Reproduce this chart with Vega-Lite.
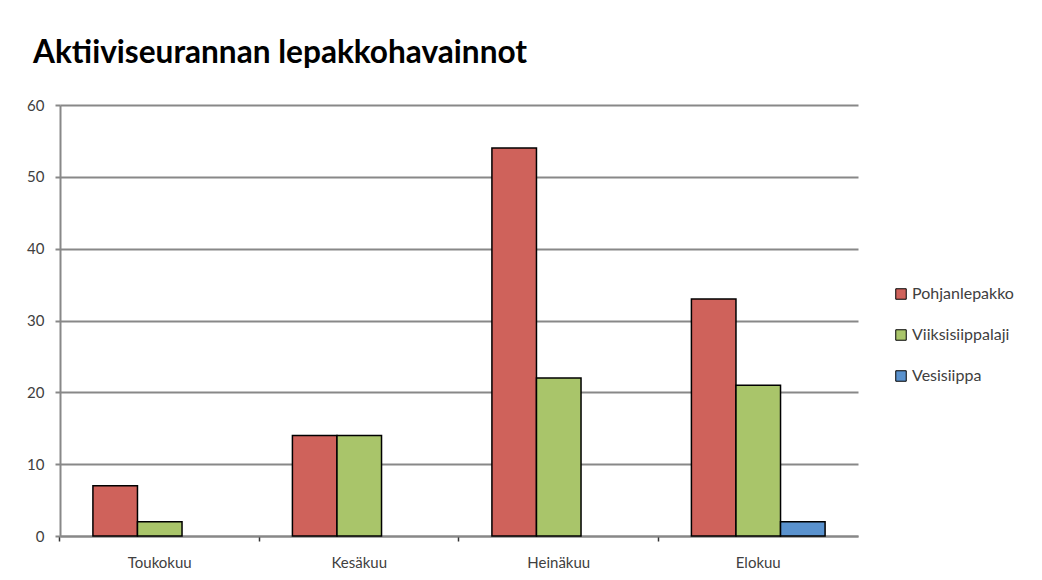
{
  "$schema": "https://vega.github.io/schema/vega-lite/v6.json",
  "autosize": "none",
  "width": 798,
  "height": 431,
  "padding": {"left": 60, "top": 105, "right": 184, "bottom": 44},
  "background": "white",
  "title": {
    "text": "Aktiiviseurannan lepakkohavainnot",
    "anchor": "start",
    "frame": "group",
    "dx": -27,
    "offset": 28,
    "font": "Lato",
    "fontSize": 31.6,
    "fontWeight": "bold",
    "color": "#000000"
  },
  "data": {
    "values": [
      {"kuukausi": "Toukokuu", "laji": "Pohjanlepakko", "havainnot": 7},
      {"kuukausi": "Toukokuu", "laji": "Viiksisiippalaji", "havainnot": 2},
      {"kuukausi": "Toukokuu", "laji": "Vesisiippa", "havainnot": 0},
      {"kuukausi": "Kesäkuu", "laji": "Pohjanlepakko", "havainnot": 14},
      {"kuukausi": "Kesäkuu", "laji": "Viiksisiippalaji", "havainnot": 14},
      {"kuukausi": "Kesäkuu", "laji": "Vesisiippa", "havainnot": 0},
      {"kuukausi": "Heinäkuu", "laji": "Pohjanlepakko", "havainnot": 54},
      {"kuukausi": "Heinäkuu", "laji": "Viiksisiippalaji", "havainnot": 22},
      {"kuukausi": "Heinäkuu", "laji": "Vesisiippa", "havainnot": 0},
      {"kuukausi": "Elokuu", "laji": "Pohjanlepakko", "havainnot": 33},
      {"kuukausi": "Elokuu", "laji": "Viiksisiippalaji", "havainnot": 21},
      {"kuukausi": "Elokuu", "laji": "Vesisiippa", "havainnot": 2}
    ]
  },
  "transform": [{"filter": "datum.havainnot > 0"}],
  "mark": {"type": "bar", "stroke": "#000000", "strokeWidth": 1.5},
  "encoding": {
    "x": {
      "field": "kuukausi",
      "type": "nominal",
      "sort": ["Toukokuu", "Kesäkuu", "Heinäkuu", "Elokuu"],
      "scale": {"paddingInner": 0.33, "paddingOuter": 0.165},
      "axis": {
        "title": null,
        "labelAngle": 0,
        "bandPosition": -0.2463,
        "labelOffset": 0,
        "labelFont": "Lato",
        "labelFontSize": 15,
        "labelColor": "#404040",
        "labelPadding": 14,
        "domainColor": "#888888",
        "domainWidth": 2,
        "tickColor": "#333333",
        "tickSize": 5,
        "tickWidth": 1.5,
        "grid": false
      }
    },
    "xOffset": {
      "field": "laji",
      "type": "nominal",
      "sort": ["Pohjanlepakko", "Viiksisiippalaji", "Vesisiippa"],
      "scale": {"domain": ["Pohjanlepakko", "Viiksisiippalaji", "Vesisiippa"], "paddingInner": 0, "paddingOuter": 0}
    },
    "y": {
      "field": "havainnot",
      "type": "quantitative",
      "scale": {"domain": [0, 60], "nice": false},
      "axis": {
        "title": null,
        "values": [0, 10, 20, 30, 40, 50, 60],
        "labelFont": "Lato",
        "labelFontSize": 15,
        "labelColor": "#404040",
        "labelPadding": 11,
        "domainColor": "#888888",
        "domainWidth": 2,
        "tickColor": "#888888",
        "tickSize": 5,
        "tickWidth": 2,
        "grid": true,
        "gridColor": "#888888",
        "gridWidth": 2
      }
    },
    "color": {
      "field": "laji",
      "type": "nominal",
      "sort": ["Pohjanlepakko", "Viiksisiippalaji", "Vesisiippa"],
      "scale": {
        "domain": ["Pohjanlepakko", "Viiksisiippalaji", "Vesisiippa"],
        "range": ["#CF625B", "#A9C56A", "#5A92CE"]
      },
      "legend": {
        "title": null,
        "orient": "none",
        "legendX": 833,
        "legendY": 181,
        "symbolType": "square",
        "symbolSize": 110,
        "symbolStrokeColor": "#000000",
        "symbolStrokeWidth": 1,
        "rowPadding": 25,
        "labelFont": "Lato",
        "labelFontSize": 16,
        "labelColor": "#404040",
        "labelOffset": 3
      }
    }
  },
  "config": {"view": {"stroke": null}}
}
